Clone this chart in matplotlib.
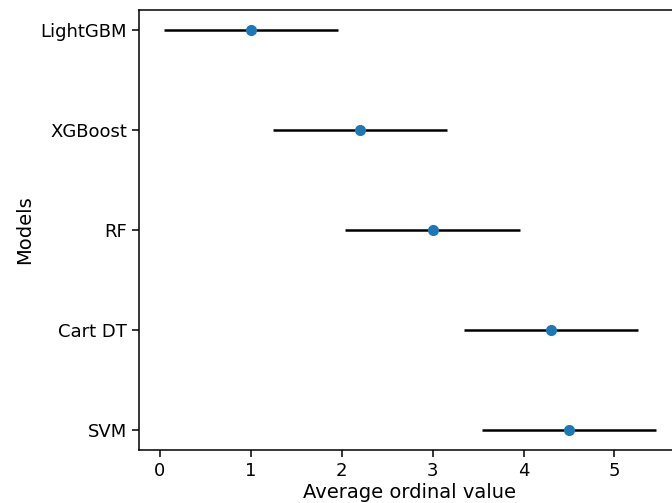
import numpy as np
import matplotlib
matplotlib.use("Agg")
import matplotlib.pyplot as plt

models = ["LightGBM", "XGBoost", "RF", "Cart DT", "SVM"]
avg_rank = [1.0, 2.2, 3.0, 4.3, 4.5]
half_cd = [0.96, 0.96, 0.96, 0.96, 0.96]

fig = plt.figure(figsize=(6.72, 5.03), dpi=100)
ax = fig.add_axes([0.2068, 0.1054, 0.8065, 0.8748])

ypos = np.arange(len(models))
ax.errorbar(avg_rank, ypos, xerr=half_cd, fmt="o", color="#1f77b4", ecolor="black",
            elinewidth=1.8, markersize=7, zorder=3)
ax.set_yticks(ypos)
ax.set_yticklabels(models)
ax.set_xlim(-0.231, 5.731)
ax.set_ylim(4.2, -0.2)

ax.tick_params(labelsize=13, width=1.1, length=5)
for s in ax.spines.values():
    s.set_linewidth(1.1)
ax.set_xlabel("Average ordinal value", fontsize=14, labelpad=2)
ax.set_ylabel("Models", fontsize=14, labelpad=5)

fig.savefig("out.png", dpi=100)
